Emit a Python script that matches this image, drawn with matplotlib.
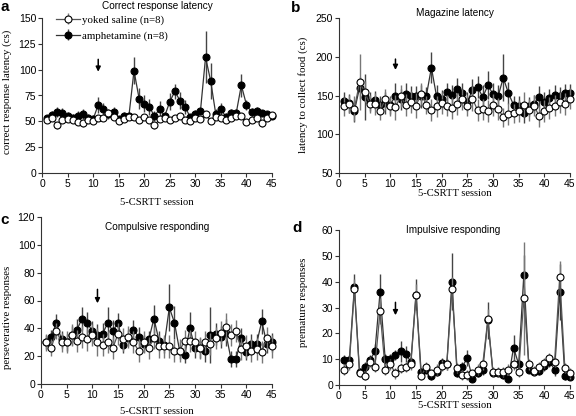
import matplotlib
matplotlib.use("Agg")
import matplotlib.pyplot as plt
import numpy as np

plt.rcParams["font.family"] = ["Liberation Sans", "DejaVu Sans"]

# ====== data ======
sessions = np.arange(1, 46)

# (a) correct response latency (cs)
lat_amph = [53, 56, 59, 58, 55, 53, 55, 57, 53, 52, 66, 62, 57, 59, 52, 55, 55, 99, 72, 67,
            64, 55, 62, 55, 69, 79, 70, 64, 54, 57, 60, 112, 89, 57, 62, 54, 58, 58, 85, 66,
            59, 60, 58, 57, 55]
lat_amph_err = [3, 4, 5, 5, 4, 4, 5, 5, 4, 4, 8, 6, 5, 5, 3, 4, 4, 13, 10, 8,
                8, 5, 8, 4, 8, 7, 8, 7, 3, 4, 3, 25, 17, 5, 6, 4, 4, 4, 11, 5,
                4, 4, 3, 3, 3]
lat_sal = [51, 53, 46, 51, 52, 51, 49, 48, 51, 50, 53, 53, 58, 54, 50, 52, 54, 54, 51, 54,
           51, 46, 52, 53, 51, 53, 55, 51, 50, 53, 52, 57, 50, 54, 53, 51, 53, 55, 55, 49,
           51, 53, 48, 53, 56]
lat_sal_err = [3] * 45

# (b) magazine latency (cs)
mag_amph = [143, 140, 130, 160, 148, 142, 144, 138, 140, 138, 150, 145, 152, 149, 149, 149, 149, 186, 149, 145,
            154, 151, 159, 153, 142, 157, 161, 148, 163, 152, 149, 173, 153, 138, 137, 128, 136, 139, 148, 142,
            147, 151, 149, 153, 153]
mag_amph_err = [12, 12, 14, 14, 30, 12, 12, 12, 14, 12, 16, 14, 14, 13, 13, 15, 12, 20, 14, 12,
                12, 12, 14, 13, 12, 14, 14, 15, 18, 14, 14, 30, 14, 12, 12, 14, 12, 12, 14, 12,
                12, 12, 12, 12, 12]
mag_sal = [136, 139, 133, 167, 155, 139, 139, 130, 145, 136, 135, 149, 138, 142, 137, 152, 138, 131, 136, 140,
           137, 134, 139, 145, 137, 146, 131, 132, 130, 138, 133, 122, 126, 127, 130, 138, 131, 137, 123, 130,
           134, 137, 141, 139, 146]
mag_sal_err = [12, 12, 16, 36, 14, 12, 14, 12, 14, 12, 16, 14, 14, 14, 16, 14, 12, 14, 14, 14,
               14, 14, 14, 14, 14, 16, 14, 14, 14, 14, 14, 12, 14, 12, 14, 16, 14, 14, 14, 14,
               14, 14, 14, 14, 14]

# (c) perseverative responses
per_amph = [30, 34, 44, 32, 30, 35, 39, 47, 44, 38, 35, 36, 44, 38, 44, 28, 33, 39, 34, 29,
            32, 47, 31, 28, 55, 44, 24, 21, 40, 26, 26, 24, 35, 36, 34, 37, 18, 18, 33, 23,
            29, 29, 45, 29, 30]
per_amph_err = [5, 5, 6, 6, 6, 7, 8, 8, 8, 7, 8, 8, 11, 8, 7, 6, 6, 7, 7, 6,
                6, 10, 7, 6, 17, 12, 6, 6, 12, 7, 7, 8, 20, 8, 8, 10, 6, 6, 7, 6,
                7, 7, 9, 7, 7]
per_sal = [30, 26, 38, 30, 30, 35, 31, 34, 32, 35, 30, 28, 30, 26, 36, 32, 34, 30, 24, 30,
           26, 33, 27, 27, 27, 24, 24, 31, 31, 30, 26, 30, 29, 33, 37, 41, 35, 38, 25, 27,
           24, 25, 23, 33, 27]
per_sal_err = [6, 6, 6, 7, 8, 8, 8, 8, 8, 8, 10, 8, 8, 8, 8, 8, 8, 8, 8, 8,
               8, 8, 8, 8, 8, 8, 8, 8, 8, 8, 8, 8, 8, 8, 8, 10, 8, 8, 8, 8,
               8, 8, 8, 8, 8]

# (d) premature responses
pre_amph = [9.5, 9.5, 38, 5, 7, 9.5, 13, 36, 10, 10, 11.5, 13, 12, 9, 35, 5, 6, 3.5, 5, 8.5,
            8, 40, 4.5, 7, 10.5, 2.5, 4.5, 6, 25, 4.5, 4.5, 4, 2.5, 14.5, 8, 42.5, 6, 5, 5.5, 7.5,
            9, 6, 36, 3.5, 3]
pre_amph_err = [2, 2, 5, 1.5, 2, 2, 3, 7, 2, 2, 2, 4, 3, 2, 6, 1.5, 1.5, 1.5, 1.5, 2,
                2, 11, 1.5, 2, 3, 1, 1.5, 2, 7, 1.5, 1.5, 1.5, 1.5, 5, 2, 8, 1.5, 1.5, 1.5, 2,
                2, 2.5, 11, 1.5, 1]
pre_sal = [6, 8, 37, 4.5, 3.5, 9, 7, 28.5, 6, 8, 4.5, 6.5, 7, 8, 35, 3.5, 7, 4.5, 6, 7.5,
           8, 37, 6.5, 4, 4, 4.5, 6, 8, 25.5, 5, 5, 5, 6, 8, 5, 33.5, 8, 5.5, 7, 8.5,
           10.5, 9, 42, 6.5, 4.5]
pre_sal_err = [2, 2, 4, 1.5, 1.5, 2, 2, 5, 2, 2, 2, 2, 2, 2, 4, 1.5, 2, 1.5, 2, 2,
               2, 5, 2, 2, 2, 1.5, 2, 2, 4, 2, 2, 2, 2, 2, 2, 22, 2, 2, 2, 2,
               2, 2, 6, 2, 2]

W, H = 576, 416
fig = plt.figure(figsize=(W / 100, H / 100), dpi=100)
serif = ["Liberation Serif", "DejaVu Serif"]


def make_ax(l, r, t, b):
    return fig.add_axes([l / W, 1 - b / H, (r - l) / W, (b - t) / H])


def ftext(x, y, s, **kw):
    # text placed in figure pixels (from top-left)
    kw.setdefault("ha", "center")
    kw.setdefault("va", "center")
    fig.text(x / W, 1 - y / H, s, **kw)


def panel(ax, amph, amph_err, sal, sal_err, ylim, yticks, arrow_y, legend=False):
    ax.errorbar(sessions, amph, yerr=amph_err, fmt="-o", color="#333333", ecolor="#444444",
                elinewidth=1.0, capsize=0, lw=0.9, ms=5, mfc="black", mec="black",
                mew=0.8, clip_on=False, zorder=3, label="amphetamine (n=8)")
    ax.errorbar(sessions, sal, yerr=sal_err, fmt="-o", color="#555555", ecolor="#777777",
                elinewidth=1.0, capsize=0, lw=0.9, ms=5, mfc="white", mec="black",
                mew=0.8, clip_on=False, zorder=4, label="yoked saline (n=8)")
    ax.set_xlim(0, 45)
    ax.set_ylim(*ylim)
    ax.set_xticks(range(0, 46, 5))
    ax.set_yticks(yticks)
    ax.spines["top"].set_visible(False)
    ax.spines["right"].set_visible(False)
    ax.spines["left"].set_color("#333333")
    ax.spines["bottom"].set_color("#333333")
    ax.tick_params(labelsize=7.5, length=3, direction="out", color="#333333", pad=1.2)
    ax.annotate("", xy=(11, arrow_y[1]), xytext=(11, arrow_y[0]),
                arrowprops=dict(arrowstyle="-|>", color="black", lw=1.1,
                                mutation_scale=7, shrinkA=0, shrinkB=0))
    if legend:
        h, lab = ax.get_legend_handles_labels()
        ax.legend(h[::-1], lab[::-1], loc="upper left", bbox_to_anchor=(0.03, 1.07),
                  frameon=False, prop={"family": serif, "size": 7.8},
                  handlelength=2.2, handletextpad=0.2, labelspacing=0.6, borderpad=0.2)


ax_a = make_ax(42, 272, 18, 173)
panel(ax_a, lat_amph, lat_amph_err, lat_sal, lat_sal_err, (0, 150), range(0, 151, 25),
      (110, 98), legend=True)
ax_b = make_ax(339, 570, 18, 173)
panel(ax_b, mag_amph, mag_amph_err, mag_sal, mag_sal_err, (50, 250), range(50, 251, 50),
      (197, 183))
ax_c = make_ax(41, 272, 217, 384)
panel(ax_c, per_amph, per_amph_err, per_sal, per_sal_err, (0, 120), range(0, 121, 20),
      (68, 58))
ax_d = make_ax(339, 570, 230, 385)
panel(ax_d, pre_amph, pre_amph_err, pre_sal, pre_sal_err, (0, 60), range(0, 61, 10),
      (32, 27))

# titles
ftext(157, 6, "Correct response latency", fontsize=7.2)
ftext(455, 13, "Magazine latency", fontsize=7.2)
ftext(157, 227, "Compulsive responding", fontsize=7.2)
ftext(453, 230, "Impulsive responding", fontsize=7.2)

# panel letters
for x, y, s in [(5, 7, "a"), (296, 8, "b"), (5, 220, "c"), (297, 228, "d")]:
    ftext(x, y, s, fontsize=11, fontweight="bold")

# axis labels
for x, y in [(157, 202), (455, 194), (157, 411), (455, 406)]:
    ftext(x, y, "5-CSRTT session", fontsize=7.6, family=serif)
ftext(7, 92, "correct response latency (cs)", fontsize=7.8, family=serif, rotation=90)
ftext(303, 95, "latency to collect food (cs)", fontsize=7.8, family=serif, rotation=90)
ftext(8, 317, "perseverative responses", fontsize=7.8, family=serif, rotation=90)
ftext(303, 302, "premature responses", fontsize=7.8, family=serif, rotation=90)

fig.savefig("out.png", dpi=100, facecolor="white")
